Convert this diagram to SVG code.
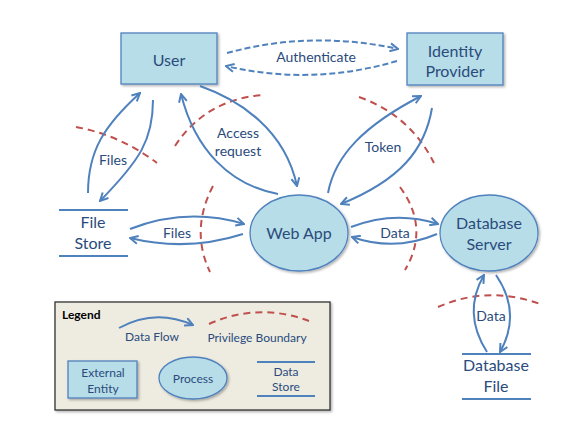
<svg xmlns="http://www.w3.org/2000/svg" width="582" height="426" viewBox="0 0 582 426">
<style>
.ent{fill:#b7dde8;stroke:#4f81bd;stroke-width:1.3}
.ds{stroke:#4f81bd;stroke-width:2.2;fill:none}
.t{font-family:Lato,"Open Sans",sans-serif;fill:#2a4b7c;text-anchor:middle}
.big{font-size:16px}
.mid{font-size:14px}
.sm{font-size:12px}
.flow{fill:none;stroke:#4f81bd;stroke-width:2;marker-end:url(#ah)}
.auth{fill:none;stroke:#4f81bd;stroke-width:2;stroke-dasharray:6 3;marker-end:url(#ah)}
.bd{fill:none;stroke:#c0504d;stroke-width:2;stroke-dasharray:7 5}
</style>
<defs>
<marker id="ah" viewBox="0 0 10 10" refX="9" refY="5" markerWidth="10" markerHeight="10" markerUnits="userSpaceOnUse" orient="auto">
<path d="M1,1 L9,5 L1,9" fill="none" stroke="#4f81bd" stroke-width="2" stroke-dasharray="none"/>
</marker>
<filter id="sh" x="-10%" y="-10%" width="120%" height="130%">
<feDropShadow dx="1.5" dy="1.5" stdDeviation="1" flood-color="#000" flood-opacity="0.3"/>
</filter>
</defs>
<rect width="582" height="426" fill="#fff"/>

<g id="boundaries">
<path class="bd" d="M76,127 Q120,135 157,163"/>
<path class="bd" d="M175,146 Q205,100 262,95"/>
<path class="bd" d="M359,97 Q410,115 434,163"/>
<path class="bd" d="M213,186 Q190,230 210,272"/>
<path class="bd" d="M400,187 Q430,228 405,270"/>
<path class="bd" d="M438,307 Q488,285 540,304"/>
</g>

<g id="user">
<rect class="ent" x="121" y="33" width="96" height="51" filter="url(#sh)"/>
<text class="t big" x="169" y="66">User</text>
</g>
<g id="idp">
<rect class="ent" x="407" y="33" width="96" height="52" filter="url(#sh)"/>
<text class="t big" x="455" y="57">Identity</text>
<text class="t big" x="455" y="77">Provider</text>
</g>
<g id="webapp">
<ellipse class="ent" cx="299" cy="233" rx="49" ry="38" filter="url(#sh)"/>
<text class="t big" x="299" y="239">Web App</text>
</g>
<g id="dbserver">
<ellipse class="ent" cx="489" cy="233" rx="49" ry="38" filter="url(#sh)"/>
<text class="t big" x="489" y="229">Database</text>
<text class="t big" x="489" y="250">Server</text>
</g>
<g id="filestore">
<line class="ds" x1="59" y1="210" x2="128" y2="210"/>
<line class="ds" x1="59" y1="256" x2="128" y2="256"/>
<text class="t big" x="93" y="228">File</text>
<text class="t big" x="93" y="249">Store</text>
</g>
<g id="dbfile">
<line class="ds" x1="462" y1="354" x2="531" y2="354"/>
<line class="ds" x1="462" y1="399" x2="531" y2="399"/>
<text class="t big" x="496" y="371">Database</text>
<text class="t big" x="496" y="392">File</text>
</g>

<g id="connectors">
<path class="auth" d="M227,53 Q312,30 398,49"/>
<path class="auth" d="M397,61 Q312,86 226,66"/>
<text class="t mid" x="316" y="62">Authenticate</text>
<path class="flow" d="M88,193 C88,150 105,125 140,93"/>
<path class="flow" d="M153,100 C153,140 140,160 100,201"/>
<text class="t mid" x="113" y="165">Files</text>
<path class="flow" d="M200,86 C240,100 285,130 297,186"/>
<path class="flow" d="M278,194 C230,185 195,150 181,94"/>
<text class="t mid" x="238" y="138">Access</text>
<text class="t mid" x="238" y="156">request</text>
<path class="flow" d="M328,193 C335,155 365,125 421,96"/>
<path class="flow" d="M432,108 C425,150 400,180 341,204"/>
<text class="t mid" x="383" y="152">Token</text>
<path class="flow" d="M130,229 Q187,207 244,224"/>
<path class="flow" d="M243,234 Q187,252 130,238"/>
<text class="t mid" x="177" y="238">Files</text>
<path class="flow" d="M351,227 Q395,210 438,224"/>
<path class="flow" d="M437,234 Q395,252 352,237"/>
<text class="t mid" x="395" y="238">Data</text>
<path class="flow" d="M487,352 Q462,313 484,275"/>
<path class="flow" d="M496,275 Q522,313 500,352"/>
<text class="t mid" x="491" y="321">Data</text>
</g>

<g id="legend">
<rect x="55" y="302" width="275" height="108" fill="#eeece1" stroke="#333" stroke-width="1.3" filter="url(#sh)"/>
<text x="62" y="319" font-family="Lato,'Open Sans',sans-serif" font-size="12" font-weight="bold" fill="#000">Legend</text>
<path class="flow" d="M119,328 Q155,308 193,325"/>
<text class="t sm" x="152" y="341">Data Flow</text>
<path class="bd" d="M209,324 Q258,302 309,321"/>
<text class="t sm" x="257" y="342">Privilege Boundary</text>
<rect class="ent" x="68" y="361" width="69" height="37" filter="url(#sh)"/>
<text class="t sm" x="103" y="377">External</text>
<text class="t sm" x="103" y="393">Entity</text>
<ellipse class="ent" cx="193" cy="378" rx="34" ry="21" filter="url(#sh)"/>
<text class="t sm" x="193" y="383">Process</text>
<line class="ds" x1="257" y1="362" x2="315" y2="362"/>
<line class="ds" x1="257" y1="396" x2="315" y2="396"/>
<text class="t sm" x="286" y="376">Data</text>
<text class="t sm" x="286" y="391">Store</text>
</g>
</svg>
